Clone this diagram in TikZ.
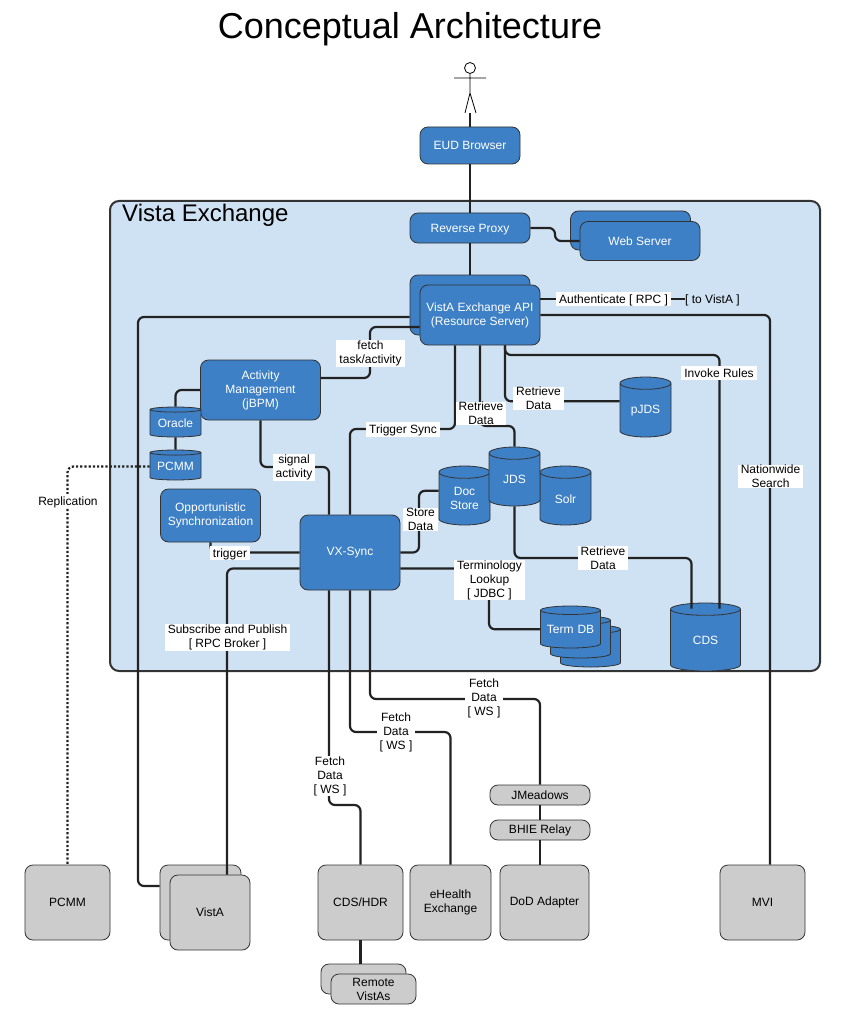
\documentclass[tikz,border=0pt]{standalone}
\usepackage{fontspec}
\setmainfont{Liberation Sans}
\usetikzlibrary{shapes.geometric}
\definecolor{nodeblue}{HTML}{3D80C6}
\definecolor{paleblue}{HTML}{CFE2F3}
\definecolor{nodegray}{HTML}{CCCCCC}
\definecolor{edgedark}{HTML}{333333}
\definecolor{wiredark}{HTML}{222222}
\begin{document}
\begin{tikzpicture}[x=1pt, y=-1pt,
    every node/.style={font=\fontsize{12}{14}\selectfont, align=center, inner sep=0pt},
    bluebox/.style={rectangle, draw=edgedark, fill=nodeblue, text=white, rounded corners=8pt, line width=0.8pt},
    graybox/.style={rectangle, draw=edgedark, fill=nodegray, rounded corners=8pt, line width=0.8pt},
    bluecyl/.style={cylinder, shape border rotate=90, cylinder uses custom fill, cylinder body fill=nodeblue, cylinder end fill=nodeblue, draw=edgedark, text=white, line width=0.8pt, anchor=shape center, text width=44pt},
    termcyl/.style={bluecyl, text width=50pt, aspect=0.17, minimum width=60pt, minimum height=42pt},
    wire/.style={draw=wiredark, line width=2.2pt, rounded corners=6pt},
    lbl/.style={fill=white, inner xsep=3pt, inner ysep=0.5pt},
    oneline/.style={text height=11pt, text depth=2.5pt}]
    \useasboundingbox (0,0) rectangle (840,1024);
    \node[font=\fontsize{36}{40}\selectfont] (title) at (410,29) {Conceptual Architecture};
    \node[rectangle, draw=edgedark, fill=paleblue, rounded corners=9pt, line width=2pt, minimum width=710pt, minimum height=470pt] (vistaex) at (465,436) {};
    \node[anchor=west, font=\fontsize{24}{28}\selectfont] (vistalbl) at (122,215) {Vista Exchange};
    \node[circle, draw, line width=0.8pt, minimum size=11pt] (head) at (470,68) {};
    \coordinate (foot) at (470,113);
    \draw[line width=0.8pt] (head.south) -- (470,93) -- (465,113) (470,93) -- (476,113) (454,78) -- (486,78);
    \node[bluebox, minimum width=100pt, minimum height=37pt] (eud) at (470,145.5) {EUD Browser};
    \node[bluebox, minimum width=120pt, minimum height=30pt, text depth=0pt] (proxy) at (470,228) {Reverse Proxy};
    \node[bluebox, minimum width=120pt, minimum height=39pt] (webback) at (630.5,230.5) {};
    \node[bluebox, minimum width=120pt, minimum height=39pt] (web) at (640,241) {Web Server};
    \node[bluebox, minimum width=120pt, minimum height=60pt] (apiback) at (470,305) {};
    \node[bluebox, minimum width=120pt, minimum height=60pt] (api) at (480,315) {VistA Exchange API\\(Resource Server)};
    \node[bluebox, minimum width=120pt, minimum height=60pt] (am) at (260.5,390) {Activity\\Management\\(jBPM)};
    \node[bluebox, minimum width=100pt, minimum height=53pt] (opp) at (210.5,515.5) {Opportunistic\\Synchronization};
    \node[bluebox, minimum width=100pt, minimum height=75pt] (vx) at (350,552.5) {VX-Sync};
    \node[bluecyl, aspect=0.116, minimum width=51pt, minimum height=30pt] (oracle) at (175.5,422) {Oracle};
    \node[bluecyl, aspect=0.116, minimum width=51pt, minimum height=30pt] (pcmmdb) at (175.5,465) {PCMM};
    \node[bluecyl, aspect=0.28, minimum width=51pt, minimum height=59pt] (docstore) at (464.5,495.5) {Doc\\Store};
    \node[bluecyl, aspect=0.28, minimum width=51pt, minimum height=59pt] (solr) at (565.5,495.5) {Solr};
    \node[bluecyl, aspect=0.28, minimum width=51pt, minimum height=59pt] (jds) at (514.5,476.5) {JDS};
    \node[bluecyl, aspect=0.28, minimum width=51pt, minimum height=60pt] (pjds) at (645.5,407) {pJDS};
    \node[bluecyl, aspect=0.28, minimum width=70pt, minimum height=68pt] (cds) at (705.5,637) {CDS};
    \node[termcyl] (termc) at (590.5,646) {};
    \node[termcyl] (termb) at (580.5,637) {};
    \node[termcyl] (term) at (570.5,627) {Term DB};
    \node[graybox, minimum width=85pt, minimum height=75pt] (pcmm) at (67.5,902.5) {PCMM};
    \node[graybox, minimum width=81pt, minimum height=75pt] (vistaback) at (200.5,902.5) {};
    \node[graybox, minimum width=80pt, minimum height=75pt] (vista) at (210,912.5) {VistA};
    \node[graybox, minimum width=85pt, minimum height=75pt] (cdshdr) at (360.5,902.5) {CDS/HDR};
    \node[graybox, minimum width=81pt, minimum height=75pt] (ehealth) at (450.5,902.5) {eHealth\\Exchange};
    \node[graybox, minimum width=89pt, minimum height=75pt] (dod) at (544.5,902.5) {DoD Adapter};
    \node[graybox, minimum width=85pt, minimum height=75pt] (mvi) at (762.5,902.5) {MVI};
    \node[graybox, minimum width=100pt, minimum height=20pt] (jmeadows) at (540,795) {JMeadows};
    \node[graybox, minimum width=100pt, minimum height=20pt] (bhie) at (540,830) {BHIE Relay};
    \node[graybox, minimum width=85pt, minimum height=30pt] (remoteback) at (363.5,979) {};
    \node[graybox, minimum width=85pt, minimum height=30pt] (remote) at (373.5,989) {Remote\\VistAs};
    \draw[wire] (foot) -- (eud.north);
    \draw[wire] (eud.south) -- (proxy.north);
    \draw[wire] (proxy.south) -- (apiback.north);
    \draw[wire] (proxy.east) -- (555,228) -- (555,241) -- (web.west);
    \draw[wire] ([yshift=-12pt]apiback.west) -- (138,317) |- ([yshift=16.5pt]vistaback.west);
    \draw[wire] ([yshift=-12pt]api.west) -- (370,327) |- ([yshift=12pt]am.east);
    \draw[wire] (am.west) -| (oracle.north);
    \draw[wire] (oracle.south) -- (pcmmdb.north);
    \draw[wire, dotted] (pcmmdb.west) -| (pcmm.north);
    \draw[wire] (am.south) |- (300,467) -| ([xshift=-21pt]vx.north);
    \draw[wire] (vx.north) |- (403,429) -| ([xshift=-25pt]api.south);
    \draw[wire] (api.south) -- (480,426) -| (jds.north);
    \draw[wire] ([xshift=25pt]api.south) |- ([yshift=9pt]pjds.west);
    \draw[wire] ([xshift=25pt]api.south) |- (600,355) -| ([xshift=14pt,yshift=-6pt]cds.north);
    \draw[wire] (api.east) -| ([xshift=7.5pt]mvi.north);
    \coordinate (tovista) at (685,299);
    \draw[wire] ([yshift=16pt]api.east) -- (tovista);
    \draw[wire] (opp.south) |- (vx.west);
    \draw[wire] ([yshift=-16pt]vx.west) -| ([xshift=17pt]vista.north);
    \draw[wire] (vx.east) -- (419,552.5) |- ([yshift=8pt]docstore.west);
    \draw[wire] ([yshift=-16pt]vx.east) -- (489,568.5) |- (term.west);
    \draw[wire] (jds.south) |- (600,558) -| ([xshift=-14pt,yshift=-6pt]cds.north);
    \draw[wire] ([xshift=-21pt]vx.south) |- (345,805) -| (cdshdr.north);
    \draw[wire] (vx.south) |- (400,732) -| (ehealth.north);
    \draw[wire] ([xshift=20pt]vx.south) |- (450,699) -| (jmeadows.north);
    \draw[wire] (jmeadows.south) -- (bhie.north);
    \draw[wire] (bhie.south) -- (bhie.south |- dod.north);
    \draw[wire] (cdshdr.south) -- (cdshdr.south |- remoteback.north);
    \node[lbl] (lblfetch) at (370.5,353.5) {fetch\\task/activity};
    \node[lbl] (lblsignal) at (294,467.5) {signal\\activity};
    \node[lbl, oneline] (lbltrigsync) at (403,429.5) {Trigger Sync};
    \node[lbl] (lblretr) at (481,413.5) {Retrieve\\Data};
    \node[lbl] (lblretrp) at (538.5,398.5) {Retrieve\\Data};
    \node[lbl, oneline] (lblrules) at (719,373) {Invoke Rules};
    \node[lbl] (lblsearch) at (770.5,476.5) {Nationwide\\Search};
    \node[lbl, oneline] (lblauth) at (613.5,299) {Authenticate [ RPC ]};
    \node[anchor=west, oneline] (lbltovista) at (685,299) {[ to VistA ]};
    \node[lbl, oneline] (lbltrigger) at (230,553) {trigger};
    \node[lbl] (lblbroker) at (227.5,637.5) {Subscribe and Publish\\{[ RPC Broker ]}};
    \node[lbl] (lblstore) at (420.5,519.5) {Store\\Data};
    \node[lbl] (lblterm) at (489.5,580) {Terminology\\Lookup\\{[ JDBC ]}};
    \node[lbl] (lblretrc) at (603,558) {Retrieve\\Data};
    \node[lbl] (lblfetcha) at (330,776) {Fetch\\Data\\{[ WS ]}};
    \node[lbl] (lblfetchb) at (396,732) {Fetch\\Data\\{[ WS ]}};
    \node[lbl] (lblfetchc) at (484,698) {Fetch\\Data\\{[ WS ]}};
    \node[lbl, oneline] (lblrepl) at (68,501) {Replication};
\end{tikzpicture}
\end{document}
